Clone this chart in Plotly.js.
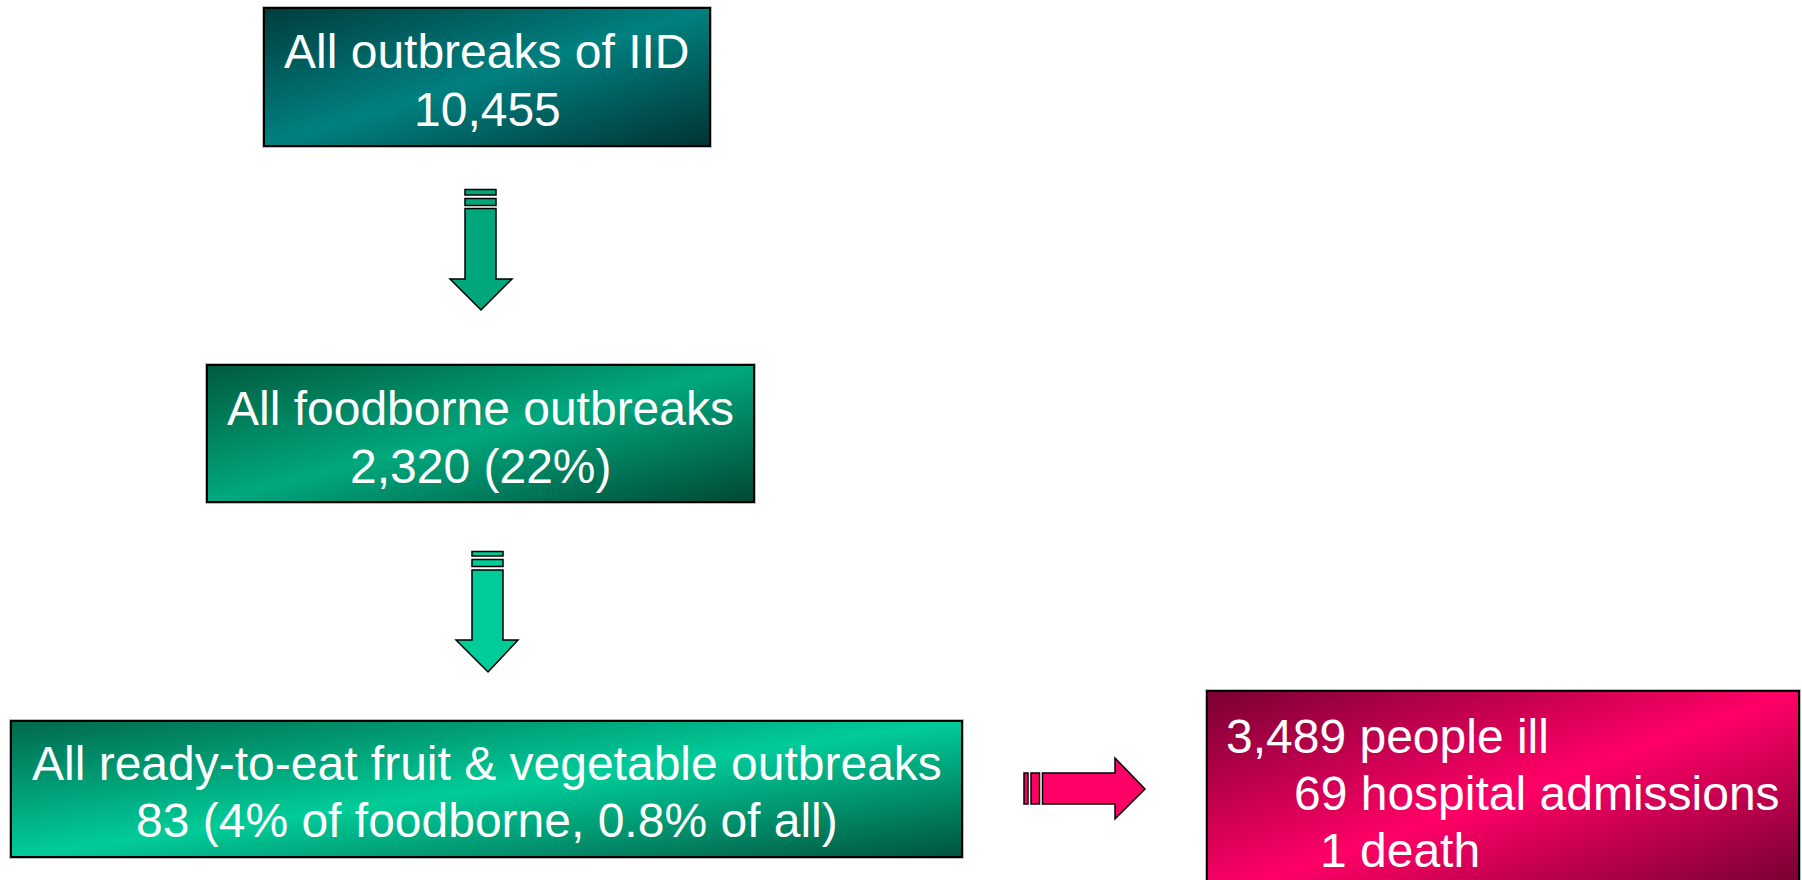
<!DOCTYPE html>
<html>
<head>
<meta charset="utf-8">
<script src="https://cdn.plot.ly/plotly-3.0.1.min.js"></script>
<style>html,body{margin:0;padding:0;background:#fff;}#chart{width:1802px;height:880px;}</style>
</head>
<body>
<div id="chart"></div>
<script>
// ---- data ----
const stageLabels = ["All outbreaks of IID", "All foodborne outbreaks", "All ready-to-eat fruit & vegetable outbreaks"];
const stageCounts = [10455, 2320, 83];
const stageNotes = ["", "(22%)", "(4% of foodborne, 0.8% of all)"];
const outcomeCounts = [3489, 69, 1];
const outcomeLabels = ["people ill", "hospital admissions", "death"];

// ---- layout geometry (pixel-like data coordinates) ----
const W = 1802, H = 880;
const FONT = "Liberation Sans, Arial, Helvetica, sans-serif";
const FS = 48;
const stageBoxes = [
  {x0: 264, x1: 710, y0: 8, y1: 146, cx: 487, lines: [51.5, 109], c: ["#003c3c", "#008080", "#003333"]},
  {x0: 207, x1: 754, y0: 365, y1: 502, cx: 480.5, lines: [408.5, 466], c: ["#005a3e", "#00a87e", "#004834"]},
  {x0: 11, x1: 962, y0: 721, y1: 857, cx: 486.5, lines: [763.5, 820], c: ["#00684c", "#00cc99", "#00533e"]}
];
const outcomeBox = {x0: 1207, x1: 1799, y0: 691, y1: 900, c: ["#7a0033", "#ff0066", "#6a002e"]};
const outcomeLines = [{x: 1224, y: 736}, {x: 1292, y: 793}, {x: 1318, y: 850}];

function gradImg(c) {
  const svg = "<svg xmlns='http://www.w3.org/2000/svg' width='200' height='100' viewBox='0 0 200 100' preserveAspectRatio='none'>" +
    "<defs><linearGradient id='g' x1='0' y1='0' x2='1' y2='1'>" +
    "<stop offset='0' stop-color='" + c[0] + "'/><stop offset='0.5' stop-color='" + c[1] + "'/><stop offset='1' stop-color='" + c[2] + "'/>" +
    "</linearGradient></defs><rect width='200' height='100' fill='url(#g)'/></svg>";
  return "data:image/svg+xml;charset=utf-8," + encodeURIComponent(svg);
}

const images = [];
const shapes = [];
const annotations = [];

stageBoxes.concat([outcomeBox]).forEach(b => {
  images.push({source: gradImg(b.c), xref: "x", yref: "y", x: b.x0, y: b.y0,
    sizex: b.x1 - b.x0, sizey: b.y1 - b.y0, xanchor: "left", yanchor: "top",
    sizing: "stretch", layer: "below"});
  shapes.push({type: "rect", xref: "x", yref: "y", x0: b.x0 - 1.5, x1: b.x1 + 1.5, y0: b.y0 - 1.5, y1: b.y1 + 1.5,
    line: {color: "#bbbbbb", width: 1}, fillcolor: "rgba(0,0,0,0)", layer: "above"});
  shapes.push({type: "rect", xref: "x", yref: "y", x0: b.x0, x1: b.x1, y0: b.y0, y1: b.y1,
    line: {color: "#000000", width: 2}, fillcolor: "rgba(0,0,0,0)", layer: "above"});
});

// stage texts
stageBoxes.forEach((b, i) => {
  const second = stageCounts[i].toLocaleString("en-US") + (stageNotes[i] ? " " + stageNotes[i] : "");
  [stageLabels[i], second].forEach((t, j) => {
    annotations.push({xref: "x", yref: "y", x: b.cx, y: b.lines[j], text: t, showarrow: false,
      xanchor: "center", yanchor: "middle", font: {family: FONT, size: FS, color: "#ffffff"}});
  });
});
// outcome texts
outcomeCounts.forEach((v, i) => {
  annotations.push({xref: "x", yref: "y", x: outcomeLines[i].x, y: outcomeLines[i].y,
    text: v.toLocaleString("en-US") + " " + outcomeLabels[i], showarrow: false,
    xanchor: "left", yanchor: "middle", font: {family: FONT, size: FS, color: "#ffffff"}});
});

// arrows
function addShape(path, fill) {
  shapes.push({type: "path", xref: "x", yref: "y", path: path, fillcolor: fill,
    line: {color: "#000000", width: 1.5}, layer: "above"});
}
function rectPath(x0, y0, x1, y1) { return `M${x0},${y0} L${x1},${y0} L${x1},${y1} L${x0},${y1} Z`; }

// down arrow 1
addShape(rectPath(465, 189.5, 496, 195), "#00a67c");
addShape(rectPath(465, 198.5, 496, 205.5), "#00a67c");
addShape("M465,208.5 L496,208.5 L496,279 L512,279 L481,310 L450,279 L465,279 Z", "#00a67c");
// down arrow 2
addShape(rectPath(472, 551.5, 503, 556), "#00cc99");
addShape(rectPath(472, 559.5, 503, 566.5), "#00cc99");
addShape("M472,570 L503,570 L503,640 L518,640 L488,672 L456,640 L472,640 Z", "#00cc99");
// right arrow
addShape(rectPath(1024, 773, 1028, 804), "#ff0066");
addShape(rectPath(1031, 773, 1039.5, 804), "#ff0066");
addShape("M1042.5,773 L1115,773 L1115,758 L1145,789 L1115,819 L1115,804 L1042.5,804 Z", "#ff0066");

const layout = {
  width: W, height: H,
  margin: {l: 0, r: 0, t: 0, b: 0, pad: 0},
  paper_bgcolor: "#ffffff", plot_bgcolor: "rgba(0,0,0,0)",
  xaxis: {range: [0, W], visible: false, fixedrange: true},
  yaxis: {range: [H, 0], visible: false, fixedrange: true},
  showlegend: false,
  images: images, shapes: shapes, annotations: annotations
};

Plotly.newPlot("chart", [], layout, {displayModeBar: false, staticPlot: true});
</script>
</body>
</html>
